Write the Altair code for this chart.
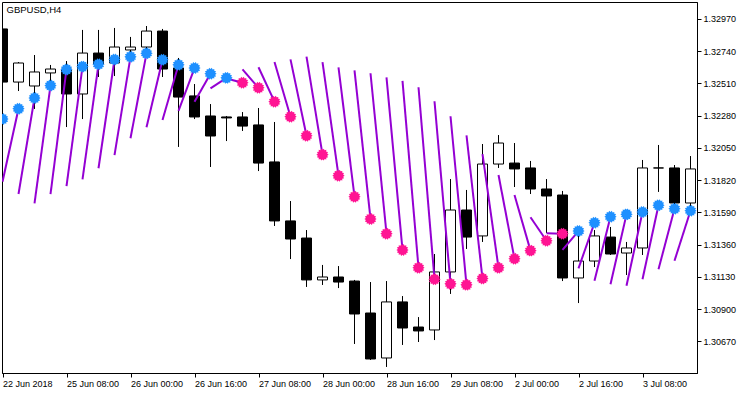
import math
import altair as alt
import pandas as pd

# ---- data (GBPUSD, H4) ----
opens = [1.32899, 1.32520, 1.32492, 1.32585, 1.32613, 1.32435, 1.32727, 1.32656, 1.32749, 1.32770,
         1.32884, 1.32620, 1.32421, 1.32278, 1.32271, 1.32271, 1.32214, 1.31950, 1.31529, 1.31407,
         1.31108, 1.31129, 1.31100, 1.30872, 1.30551, 1.30951, 1.30772, 1.30751, 1.31165, 1.31607,
         1.31422, 1.31935, 1.31942, 1.31907, 1.31757, 1.31714, 1.31122, 1.31243, 1.31414, 1.31300,
         1.31336, 1.31907, 1.31907, 1.31657]
highs = [1.32899, 1.32663, 1.32713, 1.32642, 1.32670, 1.32892, 1.32892, 1.32906, 1.32842, 1.32920,
         1.32899, 1.32692, 1.32506, 1.32363, 1.32278, 1.32306, 1.32335, 1.32235, 1.31671, 1.31464,
         1.31215, 1.31207, 1.31108, 1.31093, 1.31100, 1.30993, 1.30843, 1.31293, 1.31828, 1.31750,
         1.32078, 1.32142, 1.32085, 1.31957, 1.31828, 1.31743, 1.31464, 1.31464, 1.31486, 1.31379,
         1.31964, 1.32071, 1.31928, 1.31992]
lows = [1.32520, 1.32456, 1.32328, 1.32485, 1.32199, 1.32256, 1.32556, 1.32563, 1.32713, 1.32735,
        1.32556, 1.32057, 1.32256, 1.31914, 1.32099, 1.32171, 1.31885, 1.31493, 1.31257, 1.31058,
        1.31072, 1.31050, 1.30651, 1.30537, 1.30487, 1.30644, 1.30665, 1.30679, 1.31008, 1.31329,
        1.31379, 1.31907, 1.31771, 1.31721, 1.31443, 1.31100, 1.30943, 1.31200, 1.31286, 1.31143,
        1.31286, 1.31736, 1.31636, 1.31628]
closes = [1.32520, 1.32656, 1.32592, 1.32613, 1.32435, 1.32727, 1.32649, 1.32770, 1.32770, 1.32884,
          1.32613, 1.32413, 1.32271, 1.32135, 1.32264, 1.32206, 1.31942, 1.31529, 1.31400, 1.31108,
          1.31129, 1.31093, 1.30865, 1.30544, 1.30951, 1.30765, 1.30744, 1.31165, 1.31607, 1.31414,
          1.31935, 1.32085, 1.31900, 1.31757, 1.31707, 1.31122, 1.31243, 1.31422, 1.31293, 1.31336,
          1.31907, 1.31907, 1.31657, 1.31900]

# indicator: signal dots and fan segments (start value at previous bar)
dots = [1.32256, 1.32330, 1.32406, 1.32495, 1.32610, 1.32630, 1.32647, 1.32681, 1.32700, 1.32725,
        1.32679, 1.32643, 1.32620, 1.32579, 1.32550, 1.32515, 1.32479, 1.32380, 1.32273, 1.32137,
        1.32002, 1.31852, 1.31702, 1.31543, 1.31438, 1.31322, 1.31195, 1.31113, 1.31080, 1.31073,
        1.31118, 1.31195, 1.31259, 1.31317, 1.31388, 1.31438, 1.31457, 1.31516, 1.31559, 1.31576,
        1.31593, 1.31641, 1.31616, 1.31602]
starts = [None, 1.31809, 1.31721, 1.31655, 1.31721, 1.31778, 1.31826, 1.31905, 1.31999, 1.32119,
          1.32197, 1.32249, 1.32314, 1.32380, 1.32475, 1.32545, 1.32611, 1.32626, 1.32663, 1.32682,
          1.32702, 1.32663, 1.32625, 1.32604, 1.32583, 1.32554, 1.32528, 1.32483, 1.32383, 1.32276,
          1.32140, 1.32005, 1.31857, 1.31714, 1.31555, 1.31441, 1.31322, 1.31191, 1.31103, 1.31077,
          1.31067, 1.31113, 1.31184, 1.31245]
trend = (["up"] * 15) + (["down"] * 21) + (["up"] * 8)

price_ticks = [1.32970, 1.32740, 1.32510, 1.32280, 1.32050, 1.31820,
               1.31590, 1.31360, 1.31130, 1.30900, 1.30670]
time_tick_bars = [0, 4, 8, 12, 16, 20, 24, 28, 32, 36, 40]
time_tick_labels = ["22 Jun 2018", "25 Jun 08:00", "26 Jun 00:00", "26 Jun 16:00",
                    "27 Jun 08:00", "28 Jun 00:00", "28 Jun 16:00", "29 Jun 08:00",
                    "2 Jul 00:00", "2 Jul 16:00", "3 Jul 08:00"]

# ---- tables ----
n = len(opens)
df = pd.DataFrame({
    "i": list(range(n)),
    "open": opens, "high": highs, "low": lows, "close": closes,
    "dot": dots, "start": starts, "trend": trend,
})
df["bull"] = df["close"] >= df["open"]
df["left"] = df["i"] - 0.3125
df["right"] = df["i"] + 0.3125
df["prev"] = df["i"] - 1
seg = df[df["start"].notna()]

BLACK = "#000000"
PURPLE = "#9400D3"
BLUE = "#1E90FF"
PINK = "#FF1493"
FONT = "Liberation Sans"

xs = alt.Scale(domain=[-0.03125, 43.40625], nice=False, zero=False)
ys = alt.Scale(domain=[1.304439, 1.330913], nice=False, zero=False)

label_js = "[" + ",".join("'" + t + "'" for t in time_tick_labels) + "][datum.value/4]"

x_axis = alt.Axis(values=time_tick_bars, labelExpr=label_js, grid=False, orient="bottom",
                  domainColor=BLACK, tickColor=BLACK, tickSize=4, labelAlign="left",
                  labelBaseline="alphabetic", labelPadding=9,
                  labelFlush=False, labelOverlap=False, labelColor=BLACK,
                  labelFont=FONT, labelFontSize=9, title=None)
y_axis = alt.Axis(values=price_ticks, format=".5f", grid=False, orient="right",
                  domainColor=BLACK, tickColor=BLACK, tickSize=4, labelPadding=2,
                  labelBaseline="middle", labelOverlap=False, labelFlush=False,
                  labelBound=False, labelSeparation=0,
                  labelColor=BLACK, labelFont=FONT, labelFontSize=9, title=None)

base = alt.Chart(df)

wicks = base.mark_rule(color=BLACK, strokeWidth=1, clip=True).encode(
    x=alt.X("i:Q", scale=xs, axis=x_axis),
    y=alt.Y("low:Q", scale=ys, axis=y_axis),
    y2="high:Q",
)

bodies = base.mark_rect(stroke=BLACK, strokeWidth=1, clip=True).encode(
    x=alt.X("left:Q", scale=xs, axis=x_axis),
    x2="right:Q",
    y=alt.Y("open:Q", scale=ys, axis=y_axis),
    y2="close:Q",
    fill=alt.condition("datum.bull", alt.value("#FFFFFF"), alt.value(BLACK)),
)

fan = alt.Chart(seg).mark_rule(color=PURPLE, strokeWidth=2, clip=True).encode(
    x=alt.X("prev:Q", scale=xs, axis=x_axis),
    x2="i:Q",
    y=alt.Y("start:Q", scale=ys, axis=y_axis),
    y2="dot:Q",
)

# jagged "sun" symbol
pts = []
spikes = 14
for k in range(spikes * 2):
    r = 1.0 if k % 2 == 0 else 0.78
    a = math.pi * k / spikes
    pts.append(f"{r * math.cos(a):.3f},{r * math.sin(a):.3f}")
star = "M" + " L".join(pts) + " Z"

signal = base.mark_point(shape=star, filled=True, size=150, opacity=1, clip=True).encode(
    x=alt.X("i:Q", scale=xs, axis=x_axis),
    y=alt.Y("dot:Q", scale=ys, axis=y_axis),
    color=alt.Color("trend:N", scale=alt.Scale(domain=["up", "down"], range=[BLUE, PINK]),
                    legend=None),
)

title = alt.Chart(pd.DataFrame({"t": ["GBPUSD,H4"]})).mark_text(
    align="left", baseline="alphabetic", font=FONT, fontSize=9.5, color=BLACK
).encode(x=alt.value(4.5), y=alt.value(10.5), text="t:N")

chart = alt.layer(wicks, bodies, fan, signal, title).properties(
    width=695, height=371,
    autosize=alt.AutoSizeParams(type="none"),
    padding={"left": 2, "top": 2, "right": 53, "bottom": 21},
    background="#FFFFFF",
).configure_view(stroke=BLACK, strokeWidth=1)

chart.save("out.html", embed_options={"renderer": "svg", "actions": False})
